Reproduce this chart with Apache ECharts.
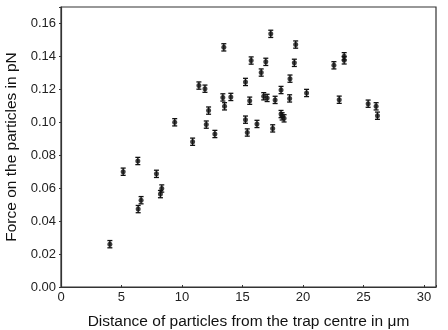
<!DOCTYPE html>
<html>
<head>
<meta charset="utf-8">
<script src="https://cdn.jsdelivr.net/npm/echarts@6/dist/echarts.min.js"></script>
<style>
  html, body { margin: 0; padding: 0; background: #fff; }
  #chart { width: 448px; height: 330px; }
</style>
</head>
<body>
<div id="chart"></div>
<script>
'use strict';
// distance from trap centre (µm) vs force (pN), with error bars
const distance = [4.04, 5.14, 6.35, 6.38, 6.62, 7.89, 8.22, 8.33, 9.40, 10.88,
  11.40, 11.90, 12.01, 12.20, 12.72, 13.38, 13.46, 13.52, 14.04, 15.25,
  15.25, 15.40, 15.60, 15.72, 16.20, 16.55, 16.76, 16.93, 17.04, 17.34,
  17.50, 17.70, 18.19, 18.19, 18.28, 18.44, 18.90, 18.93, 19.29, 19.40,
  20.30, 22.56, 23.00, 23.41, 23.41, 25.39, 26.05, 26.16];
const force = [0.0260, 0.0700, 0.0765, 0.0473, 0.0527, 0.0687, 0.0564, 0.0598, 0.1000, 0.0882,
  0.1223, 0.1204, 0.0986, 0.1071, 0.0929, 0.1151, 0.1455, 0.1097, 0.1154, 0.1245,
  0.1016, 0.0938, 0.1131, 0.1375, 0.0990, 0.1302, 0.1158, 0.1367, 0.1148, 0.1537,
  0.0963, 0.1136, 0.1196, 0.1050, 0.1036, 0.1024, 0.1145, 0.1265, 0.1361, 0.1472,
  0.1178, 0.1346, 0.1137, 0.1401, 0.1376, 0.1113, 0.1097, 0.1040];
const forceErr = [0.0022, 0.0022, 0.0022, 0.0022, 0.0022, 0.0022, 0.0022, 0.0022, 0.0022, 0.0022,
  0.0022, 0.0022, 0.0022, 0.0022, 0.0022, 0.0022, 0.0022, 0.0022, 0.0022, 0.0022,
  0.0022, 0.0022, 0.0022, 0.0022, 0.0022, 0.0022, 0.0022, 0.0022, 0.0022, 0.0022,
  0.0022, 0.0022, 0.0022, 0.0022, 0.0022, 0.0022, 0.0022, 0.0022, 0.0022, 0.0022,
  0.0022, 0.0022, 0.0022, 0.0022, 0.0022, 0.0022, 0.0022, 0.0022];
const xTicks = [0, 5, 10, 15, 20, 25, 30];
const yTicks = [0.00, 0.02, 0.04, 0.06, 0.08, 0.10, 0.12, 0.14, 0.16];

const FONT = '"Liberation Sans", Arial, sans-serif';
const INK = '#111';

const points = distance.map((x, i) => [x, force[i]]);
const bars = distance.map((x, i) => [x, force[i] - forceErr[i], force[i] + forceErr[i]]);

function renderErrorBar(params, api) {
  const x = api.value(0);
  const lo = api.coord([x, api.value(1)]);
  const hi = api.coord([x, api.value(2)]);
  const cap = 2.5;
  const style = { stroke: INK, lineWidth: 1.3 };
  return {
    type: 'group',
    children: [
      { type: 'line', shape: { x1: lo[0], y1: lo[1], x2: hi[0], y2: hi[1] }, style },
      { type: 'line', shape: { x1: lo[0] - cap, y1: lo[1], x2: lo[0] + cap, y2: lo[1] }, style },
      { type: 'line', shape: { x1: hi[0] - cap, y1: hi[1], x2: hi[0] + cap, y2: hi[1] }, style }
    ]
  };
}

const chart = echarts.init(document.getElementById('chart'), null, { renderer: 'canvas' });
chart.setOption({
  animation: false,
  backgroundColor: '#fff',
  textStyle: { fontFamily: FONT },
  grid: {
    left: 61, right: 12, top: 7, bottom: 43, outerBoundsMode: 'none', containLabel: false,
    show: true, borderColor: '#333', borderWidth: 1.2
  },
  xAxis: {
    type: 'value', min: 0, max: 31, interval: 5,
    name: 'Distance of particles from the trap centre in \u03bcm',
    nameLocation: 'middle', nameGap: 27,
    nameTextStyle: { color: INK, fontSize: 15.5, fontFamily: FONT },
    axisLine: { show: true, onZero: false, lineStyle: { color: '#333', width: 1.2 } },
    axisTick: { show: true, inside: true, length: 2, lineStyle: { color: '#333' } },
    axisLabel: { color: '#222', fontSize: 13, margin: 4, fontFamily: FONT, formatter: (v) => xTicks.includes(v) ? String(v) : '' },
    splitLine: { show: false }
  },
  yAxis: {
    type: 'value', min: 0, max: 0.17, interval: 0.02,
    name: 'Force on the particles in pN',
    nameLocation: 'middle', nameGap: 41, nameRotate: 90,
    nameTextStyle: { color: INK, fontSize: 15.5, fontFamily: FONT },
    axisLine: { show: true, onZero: false, lineStyle: { color: '#333', width: 1.2 } },
    axisTick: { show: true, length: 2, lineStyle: { color: '#333' } },
    axisLabel: {
      color: '#222', fontSize: 13, margin: 5, fontFamily: FONT,
      formatter: (v) => yTicks.some((t) => Math.abs(t - v) < 1e-9) ? v.toFixed(2) : ''
    },
    splitLine: { show: false }
  },
  series: [
    { type: 'custom', data: bars, renderItem: renderErrorBar, z: 2, encode: { x: 0, y: [1, 2] } },
    { type: 'scatter', data: points, symbol: 'circle', symbolSize: 5, itemStyle: { color: INK }, z: 3 }
  ]
});
</script>
</body>
</html>
